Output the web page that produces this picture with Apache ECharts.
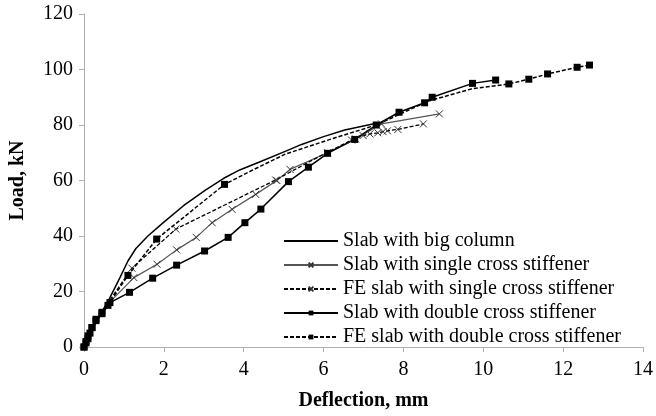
<!DOCTYPE html>
<html>
<head>
<meta charset="utf-8">
<script src="https://cdn.jsdelivr.net/npm/echarts@6/dist/echarts.min.js"></script>
<style>
html,body{margin:0;padding:0;background:#fff;}
#chart{width:656px;height:416px;}
</style>
</head>
<body>
<div id="chart"></div>
<script>
// Series names
var seriesNames = [
  'Slab with big column',
  'Slab with single cross stiffener',
  'FE slab with single cross stiffener',
  'Slab with double cross stiffener',
  'FE slab with double cross stiffener'
];
// Deflection (mm), Load (kN)
var bigColumnX = [0, 0.3, 0.64, 0.9, 1.1, 1.3, 1.6, 2.0, 2.5, 3.05, 3.5, 3.9, 4.38, 5.04, 5.45, 6.0, 6.53, 7.32, 7.5];
var bigColumnY = [0, 9, 17.5, 25, 31, 35.5, 40, 45, 51, 56.6, 60.8, 63.8, 66.6, 70.5, 73, 75.8, 78.2, 80.6, 81];

var singleX = [0, 0.1, 0.3, 0.7, 1.25, 1.83, 2.32, 2.81, 3.21, 3.71, 4.3, 4.83, 5.16, 6.1, 6.8, 7.45, 8.9];
var singleY = [0, 3, 9, 17, 25, 29.8, 35, 39.5, 44.8, 49.6, 55, 60, 64, 70, 75, 80.4, 84];

var feSingleX = [0, 0.1, 0.3, 0.7, 1.2, 2.3, 4.8, 5.87, 6.7, 6.99, 7.16, 7.36, 7.49, 7.6, 7.86, 8.5];
var feSingleY = [0, 3, 9, 18, 28.4, 42.5, 60.2, 68.5, 74.6, 76.2, 76.8, 77.2, 77.6, 77.9, 78.4, 80.4];
var feSingleNoMarker = [7];

var doubleX = [0, 0.05, 0.1, 0.15, 0.2, 0.3, 0.45, 0.65, 1.14, 1.72, 2.32, 3.02, 3.61, 4.03, 4.43, 5.12, 5.62, 6.1, 6.78, 7.32, 7.89, 8.53, 8.72, 9.73, 10.31];
var doubleY = [0, 1.5, 3, 5, 7, 9.5, 12, 16, 19.7, 24.8, 29.5, 34.6, 39.5, 44.8, 49.7, 59.6, 64.8, 69.8, 74.8, 80, 84.6, 88, 90, 95, 96.2];

var feDoubleX = [0, 0.05, 0.1, 0.2, 0.3, 0.45, 0.6, 1.1, 1.82, 3.52, 4.23, 5.04, 6.2, 7.32, 8.62, 9.7, 10.64, 11.14, 11.61, 12.35, 12.66];
var feDoubleY = [0, 2, 4, 7, 10, 12.5, 15, 25.8, 38.9, 58.6, 63.8, 69.5, 75, 80, 88.6, 93, 94.8, 96.5, 98.4, 100.8, 101.6];
var feDoubleNoMarker = [10, 11, 12, 13, 14, 15];

var xTicks = [0, 2, 4, 6, 8, 10, 12, 14];
var yTicks = [0, 20, 40, 60, 80, 100, 120];

function pts(xs, ys, hidden) {
  hidden = hidden || [];
  return xs.map(function (x, i) {
    var item = { value: [x, ys[i]] };
    if (hidden.indexOf(i) >= 0) item.symbol = 'none';
    return item;
  });
}

var crossPath = 'path://M0,0L10,10M10,0L0,10';
var font = 'Liberation Serif, Times New Roman, serif';

var chart = echarts.init(document.getElementById('chart'), null, { renderer: 'canvas' });
chart.setOption({
  animation: false,
  backgroundColor: '#fff',
  grid: { left: 81, right: 13, top: 14, bottom: 69, containLabel: false },
  xAxis: {
    type: 'value', min: xTicks[0], max: xTicks[xTicks.length - 1], interval: 2,
    name: 'Deflection, mm', nameLocation: 'middle', nameGap: 44,
    nameTextStyle: { fontFamily: font, fontSize: 20, fontWeight: 'bold', color: '#000' },
    axisLine: { show: true, lineStyle: { color: '#b0b0b0', width: 1 } },
    axisTick: { show: true, inside: false, length: 5, lineStyle: { color: '#b0b0b0' } },
    axisLabel: { fontFamily: font, fontSize: 20, color: '#000', margin: 13 },
    splitLine: { show: false }
  },
  yAxis: {
    type: 'value', min: yTicks[0], max: yTicks[yTicks.length - 1], interval: 20,
    name: 'Load, kN', nameLocation: 'middle', nameGap: 56, nameRotate: 90,
    nameTextStyle: { fontFamily: font, fontSize: 20, fontWeight: 'bold', color: '#000' },
    axisLine: { show: true, lineStyle: { color: '#b0b0b0', width: 1 } },
    axisTick: { show: true, inside: false, length: 5, lineStyle: { color: '#b0b0b0' } },
    axisLabel: { fontFamily: font, fontSize: 20, color: '#000', margin: 11 },
    splitLine: { show: false }
  },
  legend: {
    orient: 'vertical', left: 283, top: 231, padding: 0,
    itemWidth: 54, itemHeight: 6, itemGap: 4,
    textStyle: { fontFamily: font, fontSize: 20, color: '#000', lineHeight: 20 },
    data: [
      { name: seriesNames[0], itemStyle: { opacity: 0 } },
      { name: seriesNames[1] },
      { name: seriesNames[2] },
      { name: seriesNames[3] },
      { name: seriesNames[4] }
    ]
  },
  series: [
    {
      name: seriesNames[0], type: 'line', data: pts(bigColumnX, bigColumnY),
      showSymbol: false, symbol: 'none', smooth: false,
      lineStyle: { color: '#000', width: 1.5 }, itemStyle: { color: '#000' }
    },
    {
      name: seriesNames[1], type: 'line', data: pts(singleX, singleY, [0, 1, 2, 3]),
      symbol: crossPath, symbolSize: 7,
      lineStyle: { color: '#555', width: 1.2 },
      itemStyle: { color: 'rgba(0,0,0,0)', borderColor: '#333', borderWidth: 1 }
    },
    {
      name: seriesNames[2], type: 'line', data: pts(feSingleX, feSingleY, [0, 1, 2, 3].concat(feSingleNoMarker)),
      symbol: crossPath, symbolSize: 7,
      lineStyle: { color: '#000', width: 1.3, type: [4, 2] },
      itemStyle: { color: 'rgba(0,0,0,0)', borderColor: '#333', borderWidth: 1 }
    },
    {
      name: seriesNames[3], type: 'line', data: pts(doubleX, doubleY),
      symbol: 'rect', symbolSize: 7,
      lineStyle: { color: '#000', width: 1.5 },
      itemStyle: { color: '#000' }
    },
    {
      name: seriesNames[4], type: 'line', data: pts(feDoubleX, feDoubleY, feDoubleNoMarker),
      symbol: 'rect', symbolSize: 7,
      lineStyle: { color: '#000', width: 1.5, type: [4, 2] },
      itemStyle: { color: '#000' }
    }
  ]
});
</script>
</body>
</html>
